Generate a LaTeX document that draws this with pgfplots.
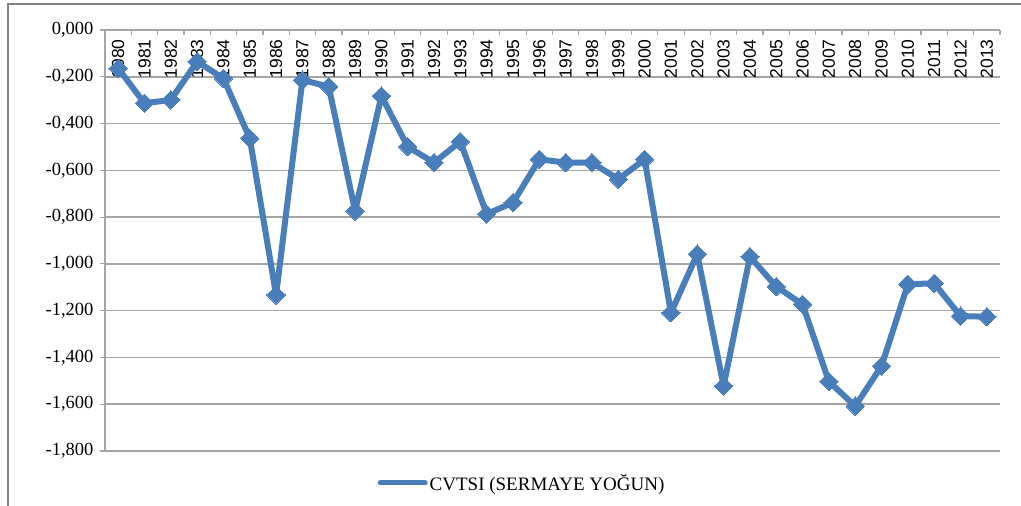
\documentclass[border=0pt]{standalone}
\usepackage{pgfplots}
\pgfplotsset{compat=1.18}
\usepackage{fontspec}
\setmainfont{Liberation Serif}
\newfontfamily\sansf{Liberation Sans}
\definecolor{cblue}{RGB}{74,126,187}
\definecolor{gridg}{RGB}{165,165,165}
\definecolor{frameg}{RGB}{128,128,128}
\begin{document}
\begin{tikzpicture}[x=1pt,y=1pt]
\draw[frameg, line width=2pt] (8,0) -- (8,502) -- (1021,502);
\begin{axis}[
  at={(105pt,55pt)}, anchor=south west,
  scale only axis, width=895pt, height=421pt,
  xmin=-0.5, xmax=33.5, ymin=-1.8, ymax=0,
  axis x line*=top, axis y line*=left,
  axis line style={gridg, line width=1.5pt},
  tick align=outside, major tick length=5pt,
  ytick={-1.8,-1.6,-1.4,-1.2,-1,-0.8,-0.6,-0.4,-0.2,0},
  yticklabels={{-1,800},{-1,600},{-1,400},{-1,200},{-1,000},{-0,800},{-0,600},{-0,400},{-0,200},{0,000}},
  ytick style={gridg, line width=1.2pt},
  yticklabel style={font=\fontsize{18.5}{18.5}\selectfont, xshift=-3pt},
  ymajorgrids, grid style={gridg, line width=1.5pt},
  xtick={0,...,33},
  xticklabels={1980,1981,1982,1983,1984,1985,1986,1987,1988,1989,1990,1991,1992,1993,1994,1995,1996,1997,1998,1999,2000,2001,2002,2003,2004,2005,2006,2007,2008,2009,2010,2011,2012,2013},
  xtick style={draw=none},
  xticklabel style={font=\sansf\fontsize{17.5}{17.5}\selectfont, yshift=-11pt, rotate=90, anchor=east},
  extra x ticks={-0.5,0.5,1.5,2.5,3.5,4.5,5.5,6.5,7.5,8.5,9.5,10.5,11.5,12.5,13.5,14.5,15.5,16.5,17.5,18.5,19.5,20.5,21.5,22.5,23.5,24.5,25.5,26.5,27.5,28.5,29.5,30.5,31.5,32.5,33.5},
  extra x tick labels={},
  extra x tick style={xtick style={draw=gridg, line width=1.2pt, yshift=-5pt}},
  legend style={at={(0.466,-0.076)}, anchor=center, draw=none, fill=none,
    font=\fontsize{19}{19}\selectfont},
  legend image code/.code={
    \draw[cblue, line width=5pt, line cap=round] (0pt,0pt) -- (45pt,0pt);
  },
  clip=false,
]
\addplot[cblue, line width=6pt, line join=round, mark=square*, mark size=6.5pt,
  mark options={rotate=45, fill=cblue, draw=cblue, line width=0pt}]
coordinates {
(0,-0.164) (1,-0.313) (2,-0.299) (3,-0.135) (4,-0.207) (5,-0.463)
(6,-1.133) (7,-0.214) (8,-0.242) (9,-0.774) (10,-0.282) (11,-0.499)
(12,-0.567) (13,-0.477) (14,-0.787) (15,-0.738) (16,-0.553) (17,-0.567)
(18,-0.567) (19,-0.638) (20,-0.553) (21,-1.209) (22,-0.958) (23,-1.522)
(24,-0.969) (25,-1.097) (26,-1.173) (27,-1.503) (28,-1.608) (29,-1.437)
(30,-1.087) (31,-1.083) (32,-1.223) (33,-1.226)
};
\addlegendentry{CVTSI (SERMAYE YOĞUN)}
\end{axis}
\pgfresetboundingbox
\path (0,0) rectangle (1021,506);
\end{tikzpicture}
\end{document}
